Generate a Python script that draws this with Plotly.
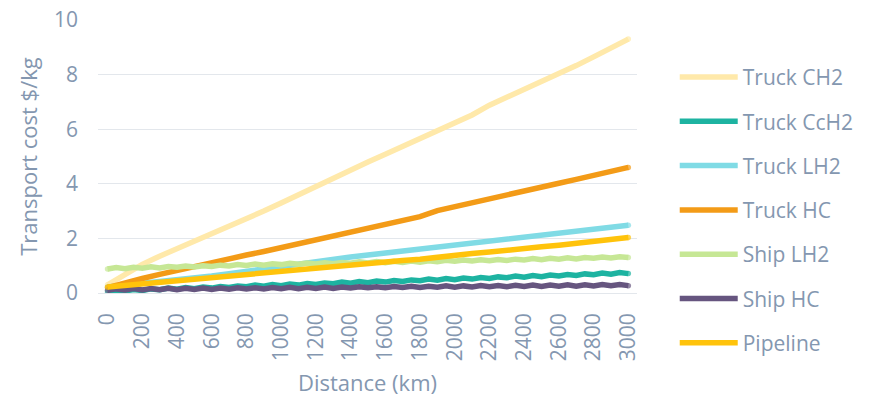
import plotly.graph_objects as go

# Distance grid (km): coarse for most modes, finer for the stepped ones
distance_km = list(range(0, 3001, 100))
distance_fine_km = list(range(0, 3001, 50))
tick_km = list(range(0, 3001, 200))

truck_ch2 = [0.30, 0.70, 1.05, 1.35, 1.62, 1.90, 2.17, 2.45, 2.72, 3.00,
             3.30, 3.60, 3.95, 4.25, 4.52, 4.80, 5.08, 5.36, 5.64, 5.92,
             6.22, 6.52, 6.88, 7.17, 7.45, 7.72, 8.00, 8.33, 8.65, 8.97, 9.30]

truck_cch2 = [0.05, 0.11, 0.07, 0.13, 0.09, 0.15, 0.12, 0.18, 0.14, 0.20,
              0.16, 0.22, 0.18, 0.24, 0.20, 0.26, 0.23, 0.29, 0.25, 0.31,
              0.27, 0.33, 0.29, 0.35, 0.31, 0.37, 0.34, 0.40, 0.36, 0.42,
              0.38, 0.44, 0.40, 0.46, 0.42, 0.48, 0.45, 0.51, 0.47, 0.53,
              0.49, 0.55, 0.51, 0.57, 0.53, 0.59, 0.56, 0.62, 0.58, 0.64,
              0.60, 0.66, 0.62, 0.68, 0.64, 0.70, 0.67, 0.73, 0.69, 0.75, 0.71]

truck_lh2 = [0.22, 0.28, 0.34, 0.40, 0.47, 0.54, 0.62, 0.71, 0.80, 0.90,
             1.00, 1.09, 1.18, 1.25, 1.32, 1.39, 1.46, 1.53, 1.60, 1.67,
             1.78, 1.86, 1.93, 2.00, 2.07, 2.14, 2.21, 2.28, 2.35, 2.42, 2.48]

truck_hc = [0.20, 0.38, 0.53, 0.68, 0.83, 0.98, 1.12, 1.25, 1.39, 1.52,
            1.66, 1.80, 1.94, 2.08, 2.22, 2.36, 2.50, 2.64, 2.80, 3.02,
            3.17, 3.31, 3.45, 3.59, 3.73, 3.87, 4.02, 4.16, 4.30, 4.45, 4.60]

ship_lh2 = [0.88, 0.93, 0.89, 0.94, 0.91, 0.96, 0.92, 0.97, 0.94, 0.99,
            0.95, 1.00, 0.97, 1.02, 0.99, 1.04, 1.01, 1.06, 1.02, 1.07,
            1.04, 1.09, 1.05, 1.10, 1.06, 1.11, 1.07, 1.12, 1.09, 1.14,
            1.10, 1.15, 1.11, 1.16, 1.12, 1.17, 1.13, 1.18, 1.15, 1.20,
            1.16, 1.21, 1.17, 1.22, 1.18, 1.23, 1.19, 1.24, 1.21, 1.26,
            1.22, 1.27, 1.24, 1.29, 1.25, 1.30, 1.27, 1.32, 1.28, 1.33, 1.30]

ship_hc = [0.10, 0.15, 0.11, 0.16, 0.11, 0.16, 0.12, 0.17, 0.12, 0.17,
           0.13, 0.18, 0.13, 0.18, 0.14, 0.19, 0.15, 0.19, 0.15, 0.20,
           0.16, 0.21, 0.16, 0.21, 0.17, 0.22, 0.17, 0.22, 0.18, 0.23,
           0.19, 0.23, 0.19, 0.24, 0.20, 0.25, 0.20, 0.25, 0.21, 0.26,
           0.21, 0.26, 0.22, 0.27, 0.23, 0.27, 0.23, 0.28, 0.24, 0.29,
           0.24, 0.29, 0.25, 0.30, 0.25, 0.30, 0.26, 0.31, 0.27, 0.31, 0.27]

pipeline = [0.22, 0.28, 0.34, 0.40, 0.46, 0.52, 0.57, 0.64, 0.70, 0.76,
            0.82, 0.87, 0.92, 0.99, 1.04, 1.09, 1.14, 1.19, 1.24, 1.32,
            1.38, 1.45, 1.50, 1.55, 1.63, 1.69, 1.75, 1.81, 1.88, 1.95, 2.03]

series = [
    ("Truck CH2", distance_km, truck_ch2, "#FFE9AA"),
    ("Truck CcH2", distance_fine_km, truck_cch2, "#1DB3A1"),
    ("Truck LH2", distance_km, truck_lh2, "#80DBE5"),
    ("Truck HC", distance_km, truck_hc, "#F39B17"),
    ("Ship LH2", distance_fine_km, ship_lh2, "#C6E795"),
    ("Ship HC", distance_fine_km, ship_hc, "#66557F"),
    ("Pipeline", distance_km, pipeline, "#FFC30B"),
]

text_color = "#8497B0"
font_family = "Open Sans"
font_size = 21
title_size = 22
line_width = 5.5

fig = go.Figure()
for name, xs, ys, color in series:
    # dots at both ends give the lines rounded caps
    cap_sizes = [line_width if i in (0, len(xs) - 1) else 0 for i in range(len(xs))]
    fig.add_trace(go.Scatter(
        x=xs, y=ys, name=name, mode="lines+markers", legendgroup=name,
        line=dict(color=color, width=line_width),
        marker=dict(color=color, size=cap_sizes, line=dict(width=0)),
    ))

fig.update_layout(
    width=871, height=397,
    margin=dict(l=98, r=219, t=20, b=104),
    paper_bgcolor="white", plot_bgcolor="white",
    font=dict(family=font_family, size=font_size, color=text_color),
    legend=dict(
        x=1.07, y=0.865, xanchor="left", yanchor="top",
        font=dict(family=font_family, size=font_size, color=text_color),
        itemwidth=58, tracegroupgap=14, bgcolor="rgba(0,0,0,0)",
        maxheight=397,
    ),
    showlegend=True,
)

fig.update_xaxes(
    range=[-55, 3050], tickmode="array", tickvals=tick_km,
    ticktext=[str(v) for v in tick_km], tickangle=-90,
    showgrid=False, zeroline=False, showline=False,
    ticks="", ticklabelstandoff=15, automargin=False,
    title=dict(text="Distance (km)", font=dict(size=title_size, color=text_color), standoff=16),
)
fig.update_yaxes(
    range=[0, 10], dtick=2, showgrid=True, gridcolor="#E3E7EC", gridwidth=1.3,
    zeroline=True, zerolinecolor="#E3E7EC", zerolinewidth=1.3, showline=False,
    ticks="", ticklabelstandoff=19, automargin=False,
    title=dict(text="Transport cost $/kg", font=dict(size=title_size, color=text_color), standoff=10),
)

fig.write_html("out.html")
